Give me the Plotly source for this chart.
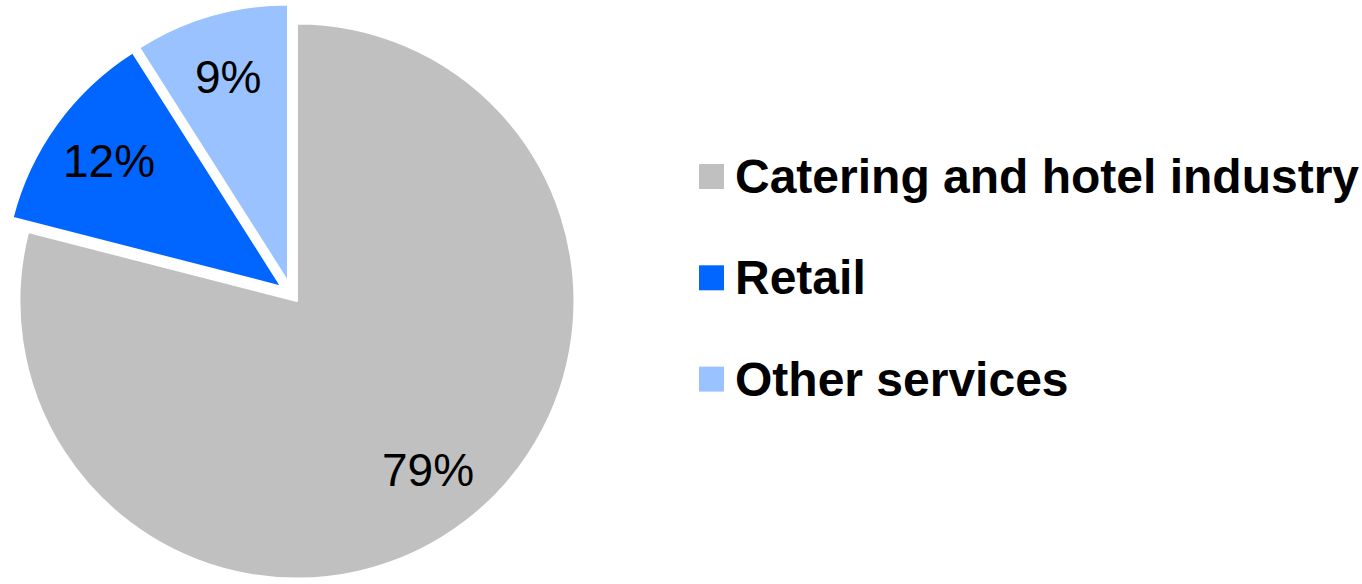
import math
import plotly.graph_objects as go

# ---- data ----
categories = ["Catering and hotel industry", "Retail", "Other services"]
shares = [79, 12, 9]
share_labels = ["79%", "12%", "9%"]
colors = ["#C0C0C0", "#0066FF", "#99C2FF"]
pulls = [0.032, 0.045, 0.045]

# ---- layout constants ----
W, H = 1362, 584
M_T, M_B = 4, 0
PIE_BOX = 583
FONT = "Liberation Sans, Arial, sans-serif"
LABEL_FRAC = 0.77

plot_h = H - M_T - M_B
dom_x = [0, PIE_BOX / W]

fig = go.Figure(
    go.Pie(
        labels=categories,
        values=shares,
        sort=False,
        direction="clockwise",
        rotation=0,
        pull=pulls,
        marker=dict(colors=colors, line=dict(color="white", width=2)),
        textinfo="none",
        hoverinfo="label+percent",
        domain=dict(x=dom_x, y=[0, 1]),
        showlegend=False,
    )
)

# pie geometry as plotly computes it
cx = W * (dom_x[0] + dom_x[1]) / 2
cy = M_T + plot_h / 2
r = min(PIE_BOX, plot_h) / 2 / (1 + max(pulls))


def to_paper(px, py):
    return px / W, (H - M_B - py) / plot_h


annotations = []
total = sum(shares)
cum = 0
for v, txt, p in zip(shares, share_labels, pulls):
    mid = (cum + v / 2) / total * 2 * math.pi
    cum += v
    dx, dy = math.sin(mid), -math.cos(mid)
    d = (p + LABEL_FRAC) * r
    x, y = to_paper(cx + d * dx, cy + d * dy)
    annotations.append(dict(
        x=x, y=y, xref="paper", yref="paper", text=txt, showarrow=False,
        xanchor="center", yanchor="middle",
        font=dict(family=FONT, size=46, color="black"),
    ))

# custom legend (large square swatches)
LEG_X, LEG_SQ, LEG_TX = 699, 25, 733
LEG_Y0, LEG_DY = 176.5, 101.3
shapes = []
for i, (name, col) in enumerate(zip(categories, colors)):
    yc = LEG_Y0 + i * LEG_DY
    x0, y0 = to_paper(LEG_X, yc + LEG_SQ / 2)
    x1, y1 = to_paper(LEG_X + LEG_SQ, yc - LEG_SQ / 2)
    shapes.append(dict(type="rect", xref="paper", yref="paper",
                       x0=x0, x1=x1, y0=y0, y1=y1,
                       fillcolor=col, line=dict(width=0)))
    tx, ty = to_paper(LEG_TX, yc)
    annotations.append(dict(
        x=tx, y=ty, xref="paper", yref="paper", text=name, showarrow=False,
        xanchor="left", yanchor="middle",
        font=dict(family=FONT, size=48, color="black", weight="bold"),
    ))

fig.update_layout(
    width=W, height=H,
    margin=dict(l=0, r=0, t=M_T, b=M_B),
    paper_bgcolor="white", plot_bgcolor="white",
    showlegend=False,
    annotations=annotations,
    shapes=shapes,
)

fig.write_html("out.html")
